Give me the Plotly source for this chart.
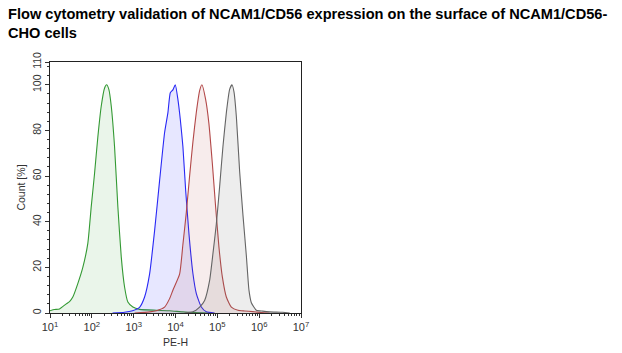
import plotly.graph_objects as go

# PE-H intensity (x) and count % (y) for each histogram
green_x = [10, 12.8, 16.9, 24.4, 29.3, 35.1, 46.2, 60.9, 80.2, 96.8, 116, 139, 168, 201, 225, 255, 291, 349, 419, 505, 606, 727, 957, 1384, 3475, 7228, 14790, 28640, 65460]
green_y = [1.0, 1.5, 1.8, 4, 5, 7, 12.9, 20, 30.5, 46.6, 61, 77, 90.7, 98.5, 100, 98, 90.7, 73, 46.6, 24.6, 11.4, 4.8, 2.6, 1.6, 1.2, 1.0, 0.5, 0.2, 0]

blue_x = [313, 606, 941, 1384, 1824, 2401, 3162, 4165, 5483, 6577, 7509, 8665, 9886, 11410, 13030, 15030, 17450, 20930, 26080, 31470, 41430, 54580, 86100]
blue_y = [0, 0.3, 1, 2.5, 7, 17, 36, 58, 79, 87.7, 96.5, 97.8, 100, 93.6, 84.8, 73, 54, 34.9, 17.3, 8.5, 2.6, 0.5, 0]

red_x = [1051, 2401, 3475, 5483, 7228, 8665, 12530, 15030, 18120, 21730, 26080, 31470, 37760, 42850, 52480, 62950, 75860, 91010, 109100, 131800, 164100, 216300, 311200, 449800, 698300, 1148000, 1782000]
red_y = [0, 0.5, 1, 2.6, 6.3, 10, 17, 30, 44, 60, 75, 88, 97.5, 100, 93.6, 83, 65.7, 46.6, 29, 15.8, 7, 2.6, 1.2, 0.9, 0.6, 0.2, 0]

gray_x = [16520, 26080, 37760, 49660, 65460, 78520, 94630, 113500, 136200, 164100, 196800, 223400, 249400, 285100, 341600, 409300, 494300, 570200, 650200, 857000, 1213000, 1782000, 3648000, 5370000]
gray_y = [0, 0.5, 2.6, 5.5, 14.3, 26, 39, 55.4, 73, 87.7, 98, 100, 97, 86, 62, 43, 25, 10, 4.5, 1.2, 0.8, 0.5, 0.3, 0]

x_tickvals = [10, 100, 1000, 10000, 100000, 1000000, 10000000]
x_ticktext = ["10<sup>1</sup>", "10<sup>2</sup>", "10<sup>3</sup>", "10<sup>4</sup>", "10<sup>5</sup>", "10<sup>6</sup>", "10<sup>7</sup>"]
y_tickvals = [0, 20, 40, 60, 80, 100, 110]
y_ticktext = ["0", "20", "40", "60", "80", "100", "110"]

series = [
    (green_x, green_y, "rgb(51,153,51)", "rgba(51,153,51,0.10)"),
    (blue_x, blue_y, "rgb(40,40,245)", "rgba(60,60,255,0.12)"),
    (red_x, red_y, "rgb(178,72,72)", "rgba(178,72,72,0.10)"),
    (gray_x, gray_y, "rgb(100,100,100)", "rgba(110,110,110,0.12)"),
]

fig = go.Figure()
for xs, ys, lc, fc in series:
    fig.add_trace(go.Scatter(
        x=xs, y=ys, mode="lines",
        line=dict(color=lc, width=1.1, shape="spline", smoothing=0.5),
        fill="tozeroy", fillcolor=fc, showlegend=False, hoverinfo="skip"))

minor_x = [m * 10 ** e for e in range(1, 7) for m in range(2, 10)]

fig.update_layout(
    width=622, height=353,
    margin=dict(l=50, r=321, t=62, b=40),
    paper_bgcolor="white", plot_bgcolor="white",
    font=dict(family="Liberation Sans, Arial, sans-serif", color="#333"),
    showlegend=False,
)
fig.update_xaxes(
    type="log", range=[1, 7], automargin=False,
    tickmode="array", tickvals=x_tickvals, ticktext=x_ticktext,
    ticks="outside", ticklen=4, tickcolor="#333", tickwidth=1,
    minor=dict(tickmode="array", tickvals=minor_x, ticks="outside", ticklen=2, tickcolor="#333", showgrid=False),
    showline=True, linecolor="#222", linewidth=1, mirror=True,
    showgrid=False, zeroline=False,
    tickfont=dict(size=11, color="#333"),
    title=dict(text="PE-H", font=dict(size=10.5, color="#333"), standoff=6),
)
fig.update_yaxes(
    range=[0, 110], automargin=False,
    tickmode="array", tickvals=y_tickvals, ticktext=y_ticktext, tickangle=-90,
    ticks="outside", ticklen=4, tickcolor="#333", tickwidth=1,
    minor=dict(tick0=0, dtick=4, ticks="outside", ticklen=2, tickcolor="#333", showgrid=False),
    showline=True, linecolor="#222", linewidth=1, mirror=True,
    showgrid=False, zeroline=False,
    tickfont=dict(size=10.5, color="#333"),
    title=dict(text="Count [%]", font=dict(size=10.5, color="#333"), standoff=3),
)
fig.add_annotation(
    xref="paper", yref="paper", x=-44 / 251, y=1 + 58 / 251,
    xanchor="left", yanchor="top", align="left", showarrow=False,
    text="<b>Flow cytometry validation of NCAM1/CD56 expression on the surface of NCAM1/CD56-<br>CHO cells</b>",
    font=dict(size=14.6, color="black", family="Liberation Sans, Arial, sans-serif"),
)
fig.write_html("out.html")
